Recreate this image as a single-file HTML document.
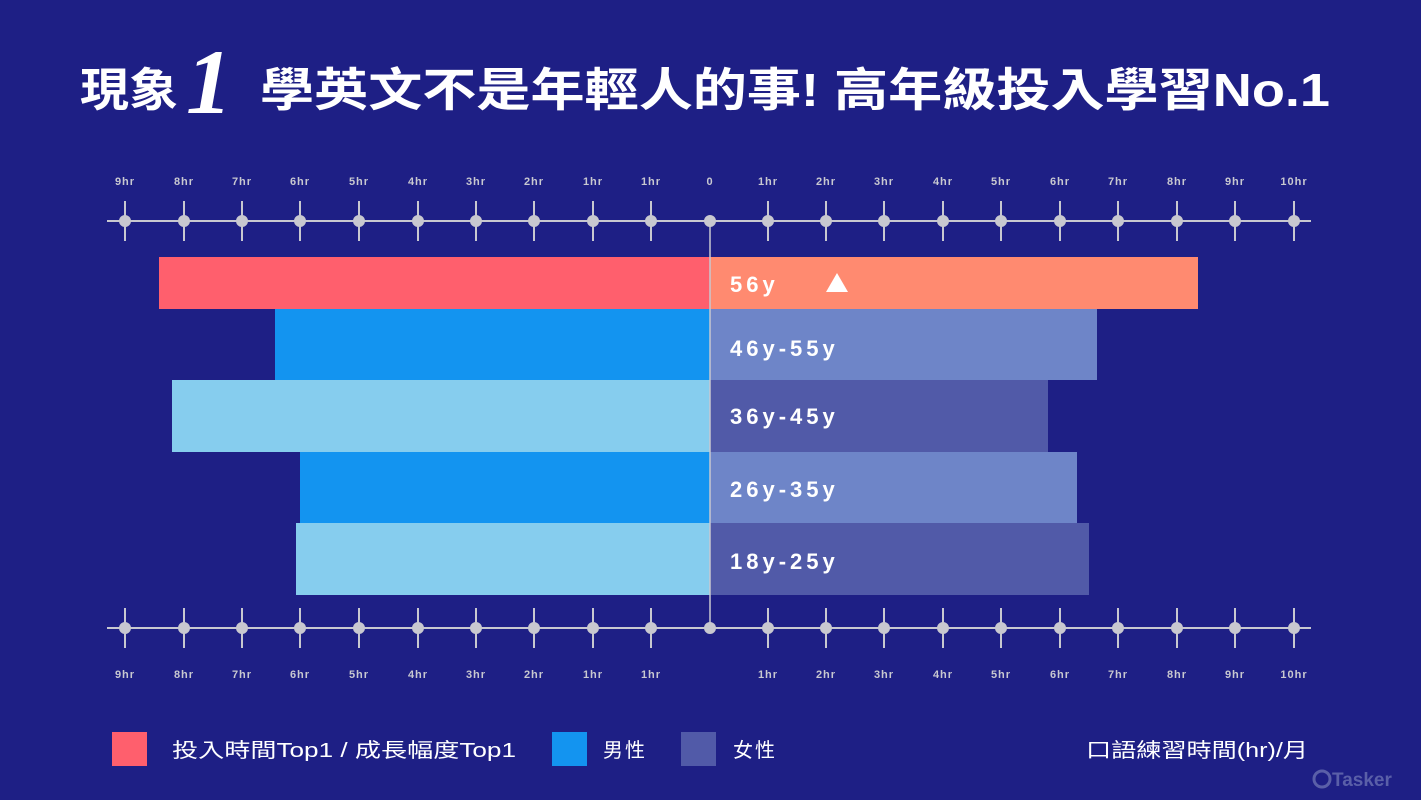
<!DOCTYPE html>
<html><head><meta charset="utf-8"><style>
html,body{margin:0;padding:0;background:#1e1f85;}
svg{display:block}
text{font-family:"Liberation Sans","Noto Sans CJK TC",sans-serif;}
</style></head><body>
<svg width="1421" height="800" viewBox="0 0 1421 800" xmlns="http://www.w3.org/2000/svg">
<rect width="1421" height="800" fill="#1e1f85"/>
<!-- title -->
<text x="80" y="106" font-size="46" font-weight="bold" fill="#fff" textLength="98" lengthAdjust="spacingAndGlyphs">現象</text>
<text x="186" y="113" font-size="92" font-style="italic" font-weight="bold" fill="#fff" style="font-family:'Liberation Serif',serif">1</text>
<text x="260" y="106" font-size="46" font-weight="bold" fill="#fff" textLength="1070" lengthAdjust="spacingAndGlyphs">學英文不是年輕人的事! 高年級投入學習No.1</text>

<!-- bars -->
<rect x="159" y="257" width="551" height="52" fill="#ff5f6d"/>
<rect x="710" y="257" width="488" height="52" fill="#ff8a70"/>
<rect x="275" y="309" width="435" height="71" fill="#1394f0"/>
<rect x="710" y="309" width="387" height="71" fill="#6e85c8"/>
<rect x="172" y="380" width="538" height="72" fill="#86cdee"/>
<rect x="710" y="380" width="338" height="72" fill="#515aa8"/>
<rect x="300" y="452" width="410" height="71" fill="#1394f0"/>
<rect x="710" y="452" width="367" height="71" fill="#6e85c8"/>
<rect x="296" y="523" width="414" height="72" fill="#86cdee"/>
<rect x="710" y="523" width="379" height="72" fill="#515aa8"/>
<line x1="710" y1="221" x2="710" y2="628" stroke="#c8c8d0" stroke-width="1.5"/>

<g font-size="22" font-weight="bold" fill="#fff" letter-spacing="4">
<text x="730" y="292">56y</text>
<text x="730" y="356">46y-55y</text>
<text x="730" y="424">36y-45y</text>
<text x="730" y="497">26y-35y</text>
<text x="730" y="569">18y-25y</text>
</g>
<polygon points="826,292 837,273 848,292" fill="#fff"/>

<!-- axes -->
<g stroke="#c8c8d0" stroke-width="2">
<line x1="107" y1="221" x2="1311" y2="221"/>
<line x1="107" y1="628" x2="1311" y2="628"/>
</g>
<g id="ticks" stroke="#c8c8d0" stroke-width="2" fill="#c8c8d0">
<script></script>
</g>
<g fill="#c8c8d0" stroke="#c8c8d0" stroke-width="2">
<!-- ticks generated statically -->
<g id="t"></g>
</g>
<g stroke="#c8c8d0" stroke-width="2" fill="#c8c8d0">
<line x1="125" y1="201" x2="125" y2="241"/><circle cx="125" cy="221" r="5"/><line x1="125" y1="608" x2="125" y2="648"/><circle cx="125" cy="628" r="5"/>
<line x1="184" y1="201" x2="184" y2="241"/><circle cx="184" cy="221" r="5"/><line x1="184" y1="608" x2="184" y2="648"/><circle cx="184" cy="628" r="5"/>
<line x1="242" y1="201" x2="242" y2="241"/><circle cx="242" cy="221" r="5"/><line x1="242" y1="608" x2="242" y2="648"/><circle cx="242" cy="628" r="5"/>
<line x1="300" y1="201" x2="300" y2="241"/><circle cx="300" cy="221" r="5"/><line x1="300" y1="608" x2="300" y2="648"/><circle cx="300" cy="628" r="5"/>
<line x1="359" y1="201" x2="359" y2="241"/><circle cx="359" cy="221" r="5"/><line x1="359" y1="608" x2="359" y2="648"/><circle cx="359" cy="628" r="5"/>
<line x1="418" y1="201" x2="418" y2="241"/><circle cx="418" cy="221" r="5"/><line x1="418" y1="608" x2="418" y2="648"/><circle cx="418" cy="628" r="5"/>
<line x1="476" y1="201" x2="476" y2="241"/><circle cx="476" cy="221" r="5"/><line x1="476" y1="608" x2="476" y2="648"/><circle cx="476" cy="628" r="5"/>
<line x1="534" y1="201" x2="534" y2="241"/><circle cx="534" cy="221" r="5"/><line x1="534" y1="608" x2="534" y2="648"/><circle cx="534" cy="628" r="5"/>
<line x1="593" y1="201" x2="593" y2="241"/><circle cx="593" cy="221" r="5"/><line x1="593" y1="608" x2="593" y2="648"/><circle cx="593" cy="628" r="5"/>
<line x1="651" y1="201" x2="651" y2="241"/><circle cx="651" cy="221" r="5"/><line x1="651" y1="608" x2="651" y2="648"/><circle cx="651" cy="628" r="5"/>
<circle cx="710" cy="221" r="5"/><circle cx="710" cy="628" r="5"/>
<line x1="768" y1="201" x2="768" y2="241"/><circle cx="768" cy="221" r="5"/><line x1="768" y1="608" x2="768" y2="648"/><circle cx="768" cy="628" r="5"/>
<line x1="826" y1="201" x2="826" y2="241"/><circle cx="826" cy="221" r="5"/><line x1="826" y1="608" x2="826" y2="648"/><circle cx="826" cy="628" r="5"/>
<line x1="884" y1="201" x2="884" y2="241"/><circle cx="884" cy="221" r="5"/><line x1="884" y1="608" x2="884" y2="648"/><circle cx="884" cy="628" r="5"/>
<line x1="943" y1="201" x2="943" y2="241"/><circle cx="943" cy="221" r="5"/><line x1="943" y1="608" x2="943" y2="648"/><circle cx="943" cy="628" r="5"/>
<line x1="1001" y1="201" x2="1001" y2="241"/><circle cx="1001" cy="221" r="5"/><line x1="1001" y1="608" x2="1001" y2="648"/><circle cx="1001" cy="628" r="5"/>
<line x1="1060" y1="201" x2="1060" y2="241"/><circle cx="1060" cy="221" r="5"/><line x1="1060" y1="608" x2="1060" y2="648"/><circle cx="1060" cy="628" r="5"/>
<line x1="1118" y1="201" x2="1118" y2="241"/><circle cx="1118" cy="221" r="5"/><line x1="1118" y1="608" x2="1118" y2="648"/><circle cx="1118" cy="628" r="5"/>
<line x1="1177" y1="201" x2="1177" y2="241"/><circle cx="1177" cy="221" r="5"/><line x1="1177" y1="608" x2="1177" y2="648"/><circle cx="1177" cy="628" r="5"/>
<line x1="1235" y1="201" x2="1235" y2="241"/><circle cx="1235" cy="221" r="5"/><line x1="1235" y1="608" x2="1235" y2="648"/><circle cx="1235" cy="628" r="5"/>
<line x1="1294" y1="201" x2="1294" y2="241"/><circle cx="1294" cy="221" r="5"/><line x1="1294" y1="608" x2="1294" y2="648"/><circle cx="1294" cy="628" r="5"/>
</g>

<g font-size="11" font-weight="bold" fill="#c8c8d0" text-anchor="middle" letter-spacing="1">
<text x="125" y="185">9hr</text><text x="184" y="185">8hr</text><text x="242" y="185">7hr</text><text x="300" y="185">6hr</text><text x="359" y="185">5hr</text><text x="418" y="185">4hr</text><text x="476" y="185">3hr</text><text x="534" y="185">2hr</text><text x="593" y="185">1hr</text><text x="651" y="185">1hr</text><text x="710" y="185">0</text>
<text x="768" y="185">1hr</text><text x="826" y="185">2hr</text><text x="884" y="185">3hr</text><text x="943" y="185">4hr</text><text x="1001" y="185">5hr</text><text x="1060" y="185">6hr</text><text x="1118" y="185">7hr</text><text x="1177" y="185">8hr</text><text x="1235" y="185">9hr</text><text x="1294" y="185">10hr</text>
<text x="125" y="678">9hr</text><text x="184" y="678">8hr</text><text x="242" y="678">7hr</text><text x="300" y="678">6hr</text><text x="359" y="678">5hr</text><text x="418" y="678">4hr</text><text x="476" y="678">3hr</text><text x="534" y="678">2hr</text><text x="593" y="678">1hr</text><text x="651" y="678">1hr</text>
<text x="768" y="678">1hr</text><text x="826" y="678">2hr</text><text x="884" y="678">3hr</text><text x="943" y="678">4hr</text><text x="1001" y="678">5hr</text><text x="1060" y="678">6hr</text><text x="1118" y="678">7hr</text><text x="1177" y="678">8hr</text><text x="1235" y="678">9hr</text><text x="1294" y="678">10hr</text>
</g>

<!-- legend -->
<rect x="112" y="732" width="35" height="34" fill="#ff5f6d"/>
<text x="172" y="757" font-size="20" fill="#fff" textLength="344" lengthAdjust="spacingAndGlyphs">投入時間Top1 / 成長幅度Top1</text>
<rect x="552" y="732" width="35" height="34" fill="#1394f0"/>
<text x="603" y="757" font-size="20" fill="#fff" letter-spacing="2">男性</text>
<rect x="681" y="732" width="35" height="34" fill="#515aa8"/>
<text x="733" y="757" font-size="20" fill="#fff" letter-spacing="2">女性</text>
<text x="1086" y="757" font-size="20" fill="#fff" textLength="222" lengthAdjust="spacingAndGlyphs">口語練習時間(hr)/月</text>
<circle cx="1322" cy="779" r="8" fill="none" stroke="#5a5fa8" stroke-width="3"/>
<text x="1332" y="786" font-size="19" font-weight="bold" fill="#5a5fa8">Tasker</text>
</svg>
</body></html>
